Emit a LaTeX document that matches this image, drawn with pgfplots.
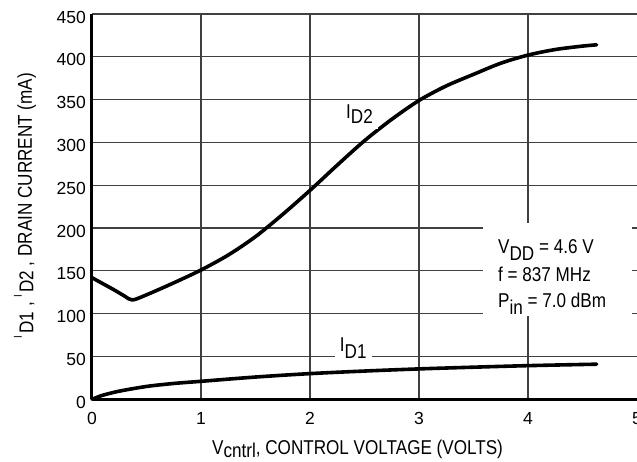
\documentclass[border=0pt]{standalone}
\usepackage{fontspec}
\setmainfont{Liberation Sans}
\newfontfamily\lblfont[FakeStretch=0.855]{Liberation Sans}
\usepackage{pgfplots}
\pgfplotsset{compat=1.18}
\newcommand{\lbl}{\lblfont\fontsize{20}{22}\selectfont}
\newcommand{\smallI}{{\fontsize{11.5}{11.5}\selectfont\raisebox{10pt}{I}}}

\begin{document}
\begin{tikzpicture}
\begin{axis}[
  scale only axis, width=545pt, height=385.3pt,
  xmin=0, xmax=5, ymin=0, ymax=450,
  axis lines*=left,
  axis line style={line width=3pt, black, -},
  xtick={0,1,2,3,4}, extra x ticks={5}, extra x tick style={grid=none},
  ytick={0,50,...,450},
  grid=major, grid style={line width=1.2pt, black!75},
  major tick length=0pt,
  tick style={draw=none},
  /pgf/number format/assume math mode=true,
  ticklabel style={font=\fontsize{17.5}{17.5}\selectfont},
  xticklabel style={anchor=base, yshift=-25pt},
  yticklabel style={anchor=east, inner xsep=0pt, xshift=-6pt, yshift=-3pt},
  clip=false,
]
% I_D2
\addplot[line width=3.6pt, black, smooth, tension=0.5, line cap=round, line join=round] coordinates {
(0,142) (0.1,135) (0.2,128) (0.3,120.5) (0.37,116) (0.5,122) (0.75,136) (1.0,151)
(1.25,168.5) (1.5,190) (1.75,216) (2.0,244) (2.25,273.5) (2.5,302) (2.75,327)
(3.0,349) (3.25,366) (3.5,379.5) (3.75,392.5) (4.0,402) (4.25,408.5) (4.5,412.5) (4.63,414)
};
% I_D1
\addplot[line width=3.6pt, black, smooth, tension=0.5, line cap=round] coordinates {
(0,0) (0.05,2.5) (0.1,4.8) (0.25,9.5) (0.5,15) (0.75,18.5) (1.0,21) (1.5,26)
(2.0,30) (2.5,33) (3.0,35.5) (3.5,37.5) (4.0,39.3) (4.63,41)
};

\node[fill=white, inner xsep=5pt, inner ysep=5.5pt, anchor=base, yshift=-19.3pt, font=\lbl]
  at (axis cs:2.454,350) {I\raisebox{-5pt}{D2}};
\node[fill=white, inner xsep=5pt, inner ysep=3pt, anchor=base, yshift=5pt, font=\lbl]
  at (axis cs:2.397,50) {I\raisebox{-7.5pt}{D1}};

\fill[white] (axis cs:3.587,97.5) rectangle (axis cs:4.954,206);
\node[anchor=base west, inner sep=0pt, font=\lbl] at (axis cs:3.725,170.5) {V\raisebox{-6.7pt}{DD} = 4.6 V};
\node[anchor=base west, inner sep=0pt, font=\lbl] at (axis cs:3.725,137.4) {f = 837 MHz};
\node[anchor=base west, inner sep=0pt, font=\lbl] at (axis cs:3.725,107.5) {P\raisebox{-7.5pt}{in} = 7.0 dBm};

\coordinate (xl) at (axis cs:2.436,0);
\coordinate (yl) at (axis cs:0,226);
\end{axis}
\node[anchor=base, font=\lbl, inner sep=0pt] at ([yshift=-55.7pt]xl)
  {V\raisebox{-3pt}{cntrl}, CONTROL VOLTAGE (VOLTS)};
\node[anchor=base, rotate=90, font=\lbl, inner sep=0pt] at ([xshift=-60pt]yl)
  {\smallI\hspace{2pt}\raisebox{-1.5pt}{D1} , \smallI\hspace{2pt}\raisebox{-1.5pt}{D2} , DRAIN CURRENT (mA)};
\pgfresetboundingbox
\path[use as bounding box] ([xshift=-92pt,yshift=-62.7pt]current axis.south west) rectangle ([yshift=14pt]current axis.north east);
\end{tikzpicture}
\end{document}
